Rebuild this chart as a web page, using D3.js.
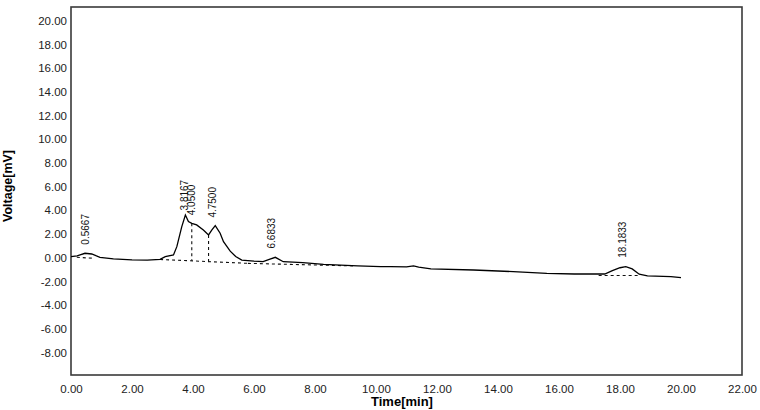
<!DOCTYPE html>
<html>
<head>
<meta charset="utf-8">
<script src="https://cdn.jsdelivr.net/npm/d3@7"></script>
<style>
  body { margin: 0; background: #fff; }
  text { font-family: "Liberation Sans", Arial, sans-serif; }
</style>
</head>
<body>
<svg id="chart" width="760" height="410"></svg>
<script>
// chromatogram trace (time in min, voltage in mV)
const traceTime = [0, 0.2, 0.46, 0.68, 0.95, 1.39, 2.0, 2.5, 2.92, 3.09, 3.36, 3.47, 3.63, 3.75, 3.85,
  3.96, 4.12, 4.34, 4.51, 4.62, 4.73, 4.89, 5.0, 5.22, 5.4, 5.6, 6.0, 6.3, 6.5, 6.7, 6.96, 7.6, 8.28,
  9.4, 10.15, 10.48, 11.0, 11.23, 11.4, 11.8, 13.2, 14.5, 15.6, 16.5, 17.5, 17.75, 18.0, 18.19, 18.4,
  18.63, 18.9, 19.67, 20.0];
const traceVolt = [0.08, 0.15, 0.37, 0.31, 0.03, -0.11, -0.18, -0.2, -0.15, 0.08, 0.23, 0.93, 2.6, 3.6, 3.04,
  2.9, 2.76, 2.34, 1.92, 2.34, 2.7, 2.06, 1.35, 0.55, 0.1, -0.2, -0.3, -0.34, -0.15, 0.03, -0.34, -0.42, -0.56,
  -0.7, -0.76, -0.76, -0.78, -0.7, -0.8, -0.95, -1.04, -1.18, -1.32, -1.38, -1.38, -1.1, -0.85, -0.76, -0.95,
  -1.4, -1.54, -1.6, -1.69];

// integration baselines (dashed), each as [[t, v], [t, v]]
const baselines = [
  [[0.19, 0.03], [0.73, -0.05]],
  [[2.92, -0.15], [5.8, -0.48]],
  [[5.8, -0.48], [9.33, -0.7]],
  [[17.3, -1.5], [18.6, -1.5]]
];

// peak splits (vertical dashed drop lines)
const dropTimes = [3.96, 4.51];

// retention time labels
const peakTimes = [0.5667, 3.8167, 4.05, 4.75, 6.6833, 18.1833];
const peakLabels = ['0.5667', '3.8167', '4.0500', '4.7500', '6.6833', '18.1833'];

const xTicks = d3.range(0, 22.01, 2);
const yTicks = d3.range(-8, 20.01, 2);

const svg = d3.select('#chart');
const m = { left: 71, right: 742, top: 7, bottom: 375 };

const x = d3.scaleLinear().domain([0, 22]).range([m.left, m.right]);
const y = d3.scaleLinear().domain([-9.9, 21.15]).range([m.bottom, m.top]);

// plain hyphen minus like the instrument software prints
const fmt = d => d.toFixed(2);

function interp (ts, vs, t) {
  const i = Math.max(1, d3.bisectLeft(ts, t));
  const k = (t - ts[i - 1]) / (ts[i] - ts[i - 1]);
  return vs[i - 1] + k * (vs[i] - vs[i - 1]);
}

function baselineAt (t) {
  for (const seg of baselines) {
    if (t >= seg[0][0] && t <= seg[1][0]) {
      return interp([seg[0][0], seg[1][0]], [seg[0][1], seg[1][1]], t);
    }
  }
  return 0;
}

// axes, no tick marks
const xAxis = svg.append('g')
  .attr('transform', `translate(0,${m.bottom})`)
  .call(d3.axisBottom(x).tickValues(xTicks).tickSize(0).tickPadding(10).tickFormat(fmt));
const yAxis = svg.append('g')
  .attr('transform', `translate(${m.left},0)`)
  .call(d3.axisLeft(y).tickValues(yTicks).tickSize(0).tickPadding(4).tickFormat(fmt));
[xAxis, yAxis].forEach(a => {
  a.select('.domain').remove();
  a.selectAll('text')
    .style('font-family', '"Liberation Sans", Arial, sans-serif')
    .style('font-size', '11.5px')
    .attr('fill', '#222');
});

// frame
svg.append('rect')
  .attr('x', m.left).attr('y', m.top)
  .attr('width', m.right - m.left).attr('height', m.bottom - m.top)
  .attr('fill', 'none').attr('stroke', '#3a3a3a').attr('stroke-width', 1.6);

// baselines
svg.append('g').selectAll('line').data(baselines).join('line')
  .attr('x1', d => x(d[0][0])).attr('y1', d => y(d[0][1]))
  .attr('x2', d => x(d[1][0])).attr('y2', d => y(d[1][1]))
  .attr('stroke', '#111').attr('stroke-width', 1.1).attr('stroke-dasharray', '3,3');

// drop lines
svg.append('g').selectAll('line').data(dropTimes).join('line')
  .attr('x1', d => x(d)).attr('x2', d => x(d))
  .attr('y1', d => y(interp(traceTime, traceVolt, d)))
  .attr('y2', d => y(baselineAt(d)))
  .attr('stroke', '#111').attr('stroke-width', 1.1).attr('stroke-dasharray', '3,3');

// trace
const line = d3.line().x(d => x(d[0])).y(d => y(d[1]));
svg.append('path')
  .datum(d3.zip(traceTime, traceVolt))
  .attr('d', line)
  .attr('fill', 'none').attr('stroke', '#000').attr('stroke-width', 1.3);

// peak labels
svg.append('g').selectAll('text').data(peakTimes).join('text')
  .attr('transform', d => `translate(${x(d) + 0.5},${y(interp(traceTime, traceVolt, d)) - 9}) rotate(-90)`)
  .attr('font-size', '10px')
  .attr('fill', '#111')
  .text((d, i) => peakLabels[i]);

// axis titles
svg.append('text')
  .attr('x', 402).attr('y', 406)
  .attr('text-anchor', 'middle')
  .attr('font-size', '13px').attr('font-weight', 'bold')
  .text('Time[min]');
svg.append('text')
  .attr('transform', 'translate(12,186) rotate(-90)')
  .attr('text-anchor', 'middle')
  .attr('font-size', '12.5px').attr('font-weight', 'bold')
  .text('Voltage[mV]');
</script>
</body>
</html>
